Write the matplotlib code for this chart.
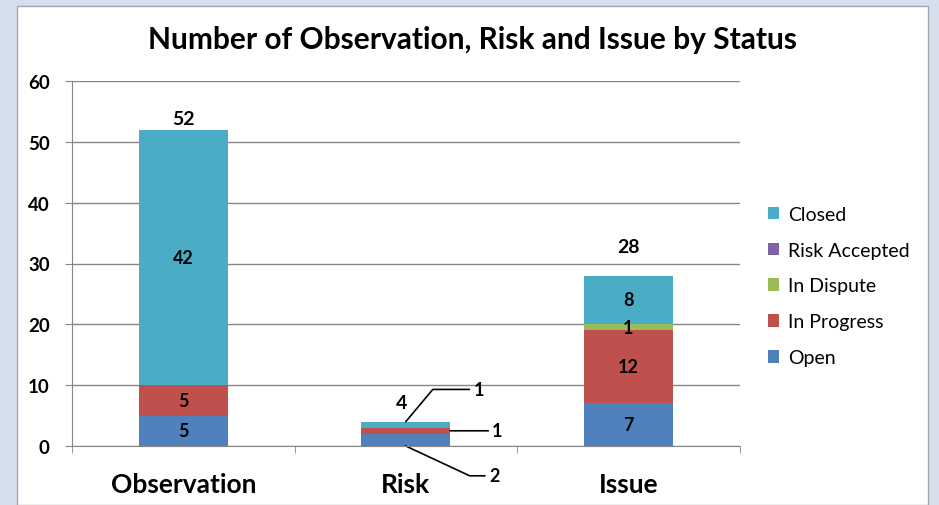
import numpy as np
import matplotlib.pyplot as plt
from matplotlib.patches import Rectangle

plt.rcParams['font.family'] = ['Lato', 'DejaVu Sans']

# data
categories = ['Observation', 'Risk', 'Issue']
statuses = ['Open', 'In Progress', 'In Dispute', 'Risk Accepted', 'Closed']
counts = {
    'Open':          [5, 2, 7],
    'In Progress':   [5, 1, 12],
    'In Dispute':    [0, 0, 1],
    'Risk Accepted': [0, 0, 0],
    'Closed':        [42, 1, 8],
}
colors = {
    'Open': '#4F81BD',
    'In Progress': '#C0504D',
    'In Dispute': '#9BBB59',
    'Risk Accepted': '#8064A2',
    'Closed': '#4BACC6',
}
# vertical offset (pt) of the total label above each bar, as placed in the original
total_offsets = [2, 8, 15]

W, H = 939, 506
fig = plt.figure(figsize=(W / 100, H / 100), dpi=100)
fig.patch.set_facecolor('#D5DFEE')
fig.patches.append(Rectangle((17 / W, 0), (928 - 17) / W, (H - 7) / H,
                             transform=fig.transFigure, facecolor='white',
                             edgecolor='#A6A6A6', linewidth=1, zorder=-10))

ax = fig.add_axes([72 / W, 59 / H, (739.5 - 72) / W, 365 / H])
ax.set_facecolor('none')

x = np.arange(len(categories))
bottom = np.zeros(len(categories))
for s in statuses:
    vals = np.array(counts[s], dtype=float)
    ax.bar(x, vals, width=0.4, bottom=bottom, color=colors[s], label=s, zorder=3)
    # labels inside segments (not for the thin Risk bar)
    for i, v in enumerate(vals):
        if v > 0 and categories[i] != 'Risk':
            ax.text(x[i], bottom[i] + v / 2, f'{int(v)}', ha='center', va='center',
                    fontsize=13, fontweight='bold', color='black', zorder=4)
    bottom += vals

# totals above bars
for i, t in enumerate(bottom):
    ax.annotate(f'{int(t)}', xy=(x[i] - (0.02 if categories[i] == 'Risk' else 0), t),
                xytext=(0, total_offsets[i]), textcoords='offset points',
                ha='center', va='bottom', fontsize=14, fontweight='bold', zorder=4)

# leader-line labels for the Risk bar
ri = categories.index('Risk')
r_open = counts['Open'][ri]
r_prog = counts['In Progress'][ri]
r_closed = counts['Closed'][ri]
line_kw = dict(arrowstyle='-', color='black', lw=1.2, shrinkA=0, shrinkB=0)
ax.annotate(f'{r_closed}', xy=(x[ri], r_open + r_prog + r_closed), xytext=(x[ri] + 0.305, 9.3),
            fontsize=13, fontweight='bold', va='center',
            arrowprops=dict(line_kw, connectionstyle='angle,angleA=0,angleB=50,rad=0',
                            relpos=(-0.4, 0.5)))
ax.annotate(f'{r_prog}', xy=(x[ri] + 0.2, r_open + r_prog / 2), xytext=(x[ri] + 0.385, 2.5),
            fontsize=13, fontweight='bold', va='center',
            arrowprops=dict(line_kw, relpos=(-0.3, 0.5)))
ax.annotate(f'{r_open}', xy=(x[ri], 0), xytext=(x[ri] + 0.375, -4.9),
            fontsize=13, fontweight='bold', va='center', annotation_clip=False,
            arrowprops=dict(line_kw, connectionstyle='angle,angleA=0,angleB=-25,rad=0',
                            relpos=(-0.4, 0.5)))

ax.set_xlim(-0.5, 2.5)
ax.set_ylim(0, 60)
ax.set_yticks(np.arange(0, 61, 10))
ax.yaxis.grid(True, color='#868686', linewidth=1, zorder=0)
ax.set_axisbelow(True)
for sp in ['top', 'right']:
    ax.spines[sp].set_visible(False)
for sp in ['left', 'bottom']:
    ax.spines[sp].set_color('#868686')
    ax.spines[sp].set_zorder(5)

ax.set_xticks(x)
ax.set_xticklabels(categories, fontsize=19, fontweight='bold')
ax.set_xticks(np.arange(-0.5, 2.6, 1), minor=True)
ax.tick_params(axis='x', which='major', length=0, pad=19)
ax.tick_params(axis='x', which='minor', length=5, color='#868686', direction='out')
ax.tick_params(axis='y', length=5, color='#868686', labelsize=13.5, pad=11)
for lab in ax.get_yticklabels():
    lab.set_fontweight('bold')

fig.text(473 / W, 1 - 40 / H, 'Number of Observation, Risk and Issue by Status',
         ha='center', va='center', fontsize=21.5, fontweight='bold')

handles, labels = ax.get_legend_handles_labels()
leg = fig.legend(handles[::-1], labels[::-1], loc='upper left',
                 bbox_to_anchor=(760 / W, 1 - 199 / H), frameon=False,
                 fontsize=14, handlelength=0.6, handleheight=0.6,
                 handletextpad=0.45, labelspacing=0.97, borderaxespad=0)

fig.savefig('out.png', dpi=100, facecolor=fig.get_facecolor())
